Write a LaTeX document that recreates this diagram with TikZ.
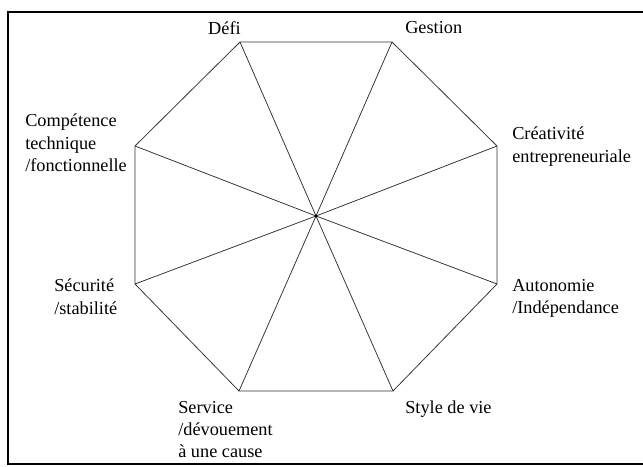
\documentclass[tikz,border=0pt]{standalone}
\usepackage{fontspec}
\setmainfont{Liberation Serif}

\begin{document}
\begin{tikzpicture}[x=0.025cm, y=-0.025cm,
  edge/.style={line width=0.55pt, black!80},
  lbl/.style={inner sep=0, align=left, font=\fontsize{13}{15.8}\selectfont}]
\useasboundingbox (0,0) rectangle (643,466);
% frame
\draw[line width=1.1pt] (8,12) rectangle (670,464);
% octagon corners
\coordinate (defi) at (240,42);
\coordinate (gest) at (392,42);
\coordinate (crea) at (497,146);
\coordinate (auto) at (497,284);
\coordinate (styl) at (393,391);
\coordinate (serv) at (239,391);
\coordinate (secu) at (135,284);
\coordinate (comp) at (135,146);
\coordinate (ctr) at (316,216);
\draw[edge] (defi) -- (gest) -- (crea) -- (auto) -- (styl) -- (serv) -- (secu) -- (comp) -- cycle;
% spokes
\draw[edge] (ctr) -- (defi);
\draw[edge] (ctr) -- (gest);
\draw[edge] (ctr) -- (crea);
\draw[edge] (ctr) -- (auto);
\draw[edge] (ctr) -- (styl);
\draw[edge] (ctr) -- (serv);
\draw[edge] (ctr) -- (secu);
\draw[edge] (ctr) -- (comp);
\fill[black] (ctr) circle (1.5);
% labels
\node[lbl, anchor=north east] (tdefi) at (241,21) {Défi};
\node[lbl, anchor=north west] (tgest) at (405,21) {Gestion};
\node[lbl, anchor=north west] (tcrea) at (512,127) {Créativité\\entrepreneuriale};
\node[lbl, anchor=north west] (tauto) at (512,279) {Autonomie\\/Indépendance};
\node[lbl, anchor=north west] (tstyl) at (405,401) {Style de vie};
\node[lbl, anchor=north west] (tserv) at (178,401) {Service\\/dévouement\\à une cause};
\node[lbl, anchor=north west] (tsecu) at (54,279) {Sécurité\\/stabilité};
\node[lbl, anchor=north west] (tcomp) at (25,114) {Compétence\\technique\\/fonctionnelle};
\end{tikzpicture}
\end{document}
